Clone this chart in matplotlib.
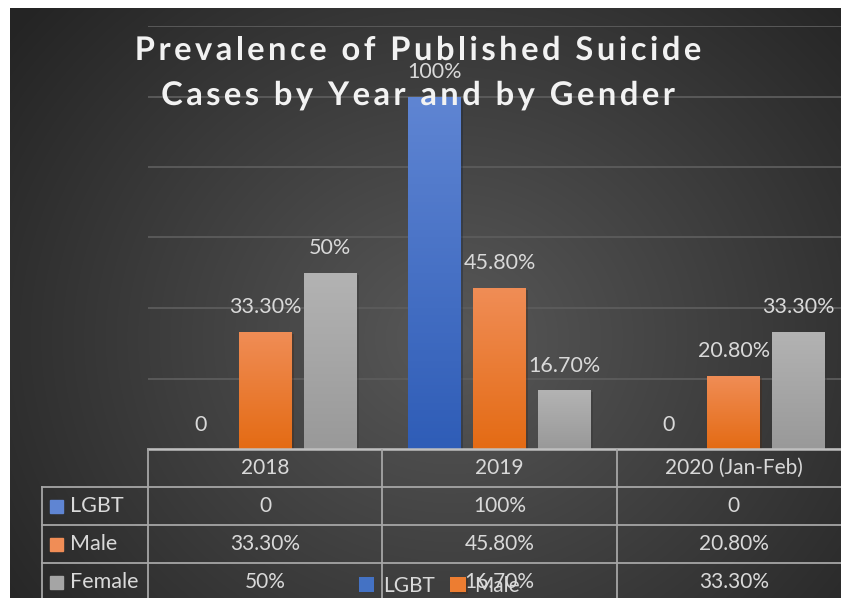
import numpy as np
import matplotlib
matplotlib.use("Agg")
import matplotlib.pyplot as plt
import matplotlib.patheffects as pe
from matplotlib.transforms import blended_transform_factory

# data
years = ["2018", "2019", "2020 (Jan-Feb)"]
series = ["LGBT", "Male", "Female"]
lgbt = [0.0, 1.0, 0.0]
male = [0.333, 0.458, 0.208]
female = [0.5, 0.167, 0.333]
title_lines = ["Prevalence of Published Suicide", "Cases by Year and by Gender"]

colors = ["#4472c4", "#ed7d31", "#a5a5a5"]
tops = ["#5f85d3", "#f08d56", "#b3b3b3"]
bottoms = ["#2f5db7", "#e46b14", "#999999"]


def fmt(v):
    if v == 0:
        return "0"
    if round(v * 100) == v * 100:
        return f"{v:.0%}"
    return f"{v:.2%}"


W, H = 841, 598
fig = plt.figure(figsize=(W / 100, H / 100), dpi=100)
fig.patch.set_facecolor("white")

# radial gradient background
bg = fig.add_axes([10 / W, 0, (W - 10) / W, (H - 8) / H])
bg.axis("off")
yy, xx = np.mgrid[0:590, 0:831]
r = np.sqrt((xx - 440) ** 2 + ((yy - 330) / 0.9) ** 2) / 560
r = np.clip(r, 0, 1)
c0 = np.array([0x58, 0x58, 0x58]) / 255
c1 = np.array([0x24, 0x24, 0x24]) / 255
img = c0[None, None, :] * (1 - r[..., None]) + c1[None, None, :] * r[..., None]
bg.imshow(img, aspect="auto", interpolation="bilinear")

# main plot
ax = fig.add_axes([148 / W, 149 / H, 703 / W, 423 / H])
ax.set_facecolor("none")
ax.set_xlim(-0.5, 2.5)
ax.set_ylim(0, 1.2)
ax.set_yticks(np.arange(0, 1.21, 0.2))
ax.set_xticks([])
ax.tick_params(left=False, labelleft=False)
ax.grid(axis="y", color="#5c5c5c", linewidth=1.3)
ax.set_axisbelow(True)
for s in ax.spines.values():
    s.set_visible(False)

x = np.arange(len(years))
width = 0.226
offsets = [-0.277, 0, 0.277]
grad = np.linspace(0, 1, 100)[:, None]
handles = []
for k, vals in enumerate([lgbt, male, female]):
    bars = ax.bar(x + offsets[k], vals, width, color=colors[k], label=series[k], zorder=2)
    handles.append(bars)
    cmap = matplotlib.colors.LinearSegmentedColormap.from_list("g", [bottoms[k], tops[k]])
    for b, v in zip(bars, vals):
        if v <= 0:
            continue
        b.set_path_effects([pe.SimplePatchShadow(offset=(1.5, -1.5), alpha=0.35), pe.Normal()])
        im = ax.imshow(grad, cmap=cmap, origin="lower", aspect="auto",
                       extent=[b.get_x(), b.get_x() + b.get_width(), 0, v], zorder=3)
        im.set_clip_path(b)
    for xi, v in zip(x + offsets[k], vals):
        ax.annotate(fmt(v), (xi, v), xytext=(0, 17.5), textcoords="offset points",
                    ha="center", va="center", color="#d9d9d9", fontsize=15.5,
                    family="Lato", zorder=4)
ax.set_xlim(-0.5, 2.5)
ax.set_ylim(0, 1.2)

# overlay in pixel coordinates for title and table
ov = fig.add_axes([0, 0, 1, 1], zorder=5)
ov.set_xlim(0, W)
ov.set_ylim(H, 0)
ov.axis("off")
ov.patch.set_alpha(0)

# title with letter spacing, drawn character by character
renderer = fig.canvas.get_renderer()
tkw = dict(color="#f2f2f2", fontsize=23.5, fontweight="bold", family="Lato",
           va="baseline", ha="left")
spacing = 3.5
for i, line in enumerate(title_lines):
    probe = ov.text(0, 0, line, **tkw)
    full = probe.get_window_extent(renderer).width
    probe.remove()
    total = full + spacing * (len(line) - 1)
    x0 = 418 - total / 2
    for n, ch in enumerate(line):
        if n > 0:
            p = ov.text(0, 0, line[:n], **tkw)
            off = p.get_window_extent(renderer).width
            p.remove()
        else:
            off = 0
        ov.text(x0 + off + spacing * n, 60 + 45 * i, ch,
                path_effects=[pe.SimpleLineShadow(offset=(1.5, -1.5), alpha=0.5), pe.Normal()],
                **tkw)

# data table
bt = blended_transform_factory(ax.transData, ov.transData)
row_y = [449, 487, 525, 563, 601]
line_c = "#a6a6a6"
edges = [-0.5, 0.5, 1.5, 2.5]
ov.plot([148, W], [449, 449], color="#bfbfbf", lw=1.8)
for yv in row_y[1:-1]:
    ov.plot([42, W], [yv, yv], color=line_c, lw=1.3)
ov.plot([42, 42], [row_y[1], H], color=line_c, lw=1.3)
for e in edges:
    ov.plot([e, e], [449, H], color=line_c, lw=1.3, transform=bt)

for j, yr in enumerate(years):
    ov.text(x[j], (row_y[0] + row_y[1]) / 2, yr, transform=bt, ha="center", va="center",
            color="#d9d9d9", fontsize=15, family="Lato")
for k, vals in enumerate([lgbt, male, female]):
    yc = (row_y[k + 1] + row_y[k + 2]) / 2
    ov.add_patch(plt.Rectangle((50, yc - 6.5), 13, 13, color=tops[k] if k != 2 else "#a5a5a5"))
    ov.text(70, yc, series[k], ha="left", va="center", color="#d9d9d9", fontsize=15.5,
            family="Lato")
    for j, v in enumerate(vals):
        ov.text(x[j], yc, fmt(v), transform=bt, ha="center", va="center",
                color="#d9d9d9", fontsize=15, family="Lato")

# legend (cut by the bottom edge, only two entries show)
fig.legend(handles[:2], series[:2], loc="center left", bbox_to_anchor=(340 / W, 1 - 586 / H),
           ncol=2, frameon=False, labelcolor="#d9d9d9",
           prop={"family": "Lato", "size": 15}, handlelength=0.75, handleheight=0.75,
           handletextpad=0.4, columnspacing=0.75)

fig.savefig("out.png", dpi=100, facecolor="white")
